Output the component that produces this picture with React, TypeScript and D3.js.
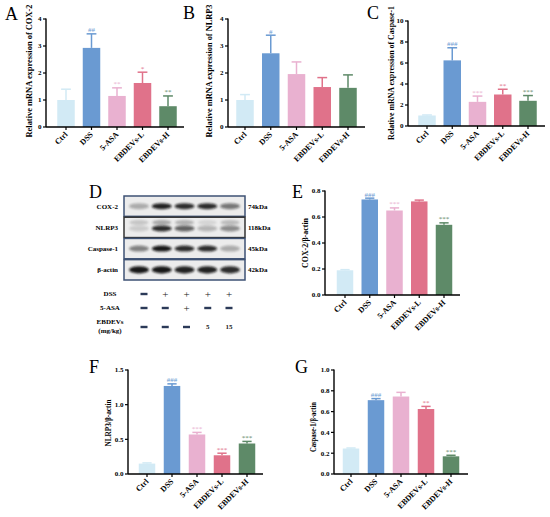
import React from "react"
import * as d3 from "d3"

const groups = ["Ctrl", "DSS", "5-ASA", "EBDEVs-L", "EBDEVs-H"]
const colors = ["#d2eaf5", "#6a9ad2", "#e9b1d0", "#e0728a", "#5e8a68"]

// A: relative mRNA of COX-2
const coxMrna = [1.0, 2.93, 1.15, 1.63, 0.77]
const coxMrnaErr = [0.4, 0.52, 0.3, 0.4, 0.38]
const coxMrnaMarks = ["", "##", "**", "*", "**"]

// B: relative mRNA of NLRP3
const nlrpMrna = [1.0, 2.73, 1.96, 1.48, 1.45]
const nlrpMrnaErr = [0.2, 0.67, 0.45, 0.35, 0.48]
const nlrpMrnaMarks = ["", "#", "", "", ""]

// C: relative mRNA of Caspase-1
const caspMrna = [1.0, 6.25, 2.3, 3.0, 2.4]
const caspMrnaErr = [0.05, 1.2, 0.55, 0.5, 0.5]
const caspMrnaMarks = ["", "###", "***", "**", "***"]

// E: COX-2 / beta-actin
const coxProt = [0.19, 0.735, 0.65, 0.72, 0.54]
const coxProtErr = [0.005, 0.01, 0.02, 0.01, 0.015]
const coxProtMarks = ["", "###", "***", "", "***"]

// F: NLRP3 / beta-actin
const nlrpProt = [0.15, 1.27, 0.57, 0.27, 0.44]
const nlrpProtErr = [0.01, 0.03, 0.03, 0.03, 0.03]
const nlrpProtMarks = ["", "###", "***", "***", "***"]

// G: Caspase-1 / beta-actin
const caspProt = [0.245, 0.71, 0.745, 0.625, 0.17]
const caspProtErr = [0.005, 0.015, 0.04, 0.025, 0.01]
const caspProtMarks = ["", "###", "", "**", "***"]

// D: western blot
const blotRows = ["COX-2", "NLRP3", "Caspase-1", "β-actin"]
const blotSizes = ["74kDa", "118kDa", "45kDa", "42kDa"]
const blotIntensity = [
  [0.3, 0.95, 0.9, 0.9, 0.55],
  [0.15, 0.9, 0.65, 0.25, 0.45],
  [0.5, 1.0, 0.9, 0.9, 0.3],
  [1.0, 1.0, 0.95, 0.95, 0.9],
]
const nlrpUpperBand = [0.2, 0.35, 0.3, 0.12, 0.25]
const treatRows = ["DSS", "5-ASA", "EBDEVs"]
const treatMarks = [
  ["-", "+", "+", "+", "+"],
  ["-", "-", "+", "-", "-"],
  ["-", "-", "-", "5", "15"],
]

const FONT = "'Liberation Serif', 'Times New Roman', serif"

const panels = [
  { letter: "A", lx: 5, ly: 20, values: coxMrna, errs: coxMrnaErr, marks: coxMrnaMarks, max: 4, ticks: [0, 1, 2, 3, 4], fmt: "d",
    ax: 46, axEnd: 184, yTop: 19, y0: 127, c0: 66, c4: 168, bw: 17.5, label: "Relative mRNA expression of COX-2", labX: 32, labY: 71, labLen: 133, labSize: 8.5 },
  { letter: "B", lx: 183, ly: 19, values: nlrpMrna, errs: nlrpMrnaErr, marks: nlrpMrnaMarks, max: 4, ticks: [0, 1, 2, 3, 4], fmt: "d",
    ax: 228, axEnd: 365, yTop: 19, y0: 127, c0: 245, c4: 348, bw: 17.5, label: "Relative mRNA expression of NLRP3", labX: 212, labY: 71, labLen: 133, labSize: 8.5 },
  { letter: "C", lx: 367, ly: 19, values: caspMrna, errs: caspMrnaErr, marks: caspMrnaMarks, max: 10, ticks: [0, 2, 4, 6, 8, 10], fmt: "d",
    ax: 408, axEnd: 545, yTop: 21, y0: 126, c0: 427, c4: 528, bw: 17.5, label: "Relative mRNA expression of Caspase-1", labX: 394, labY: 73, labLen: 134, labSize: 7.8 },
  { letter: "E", lx: 292, ly: 198, values: coxProt, errs: coxProtErr, marks: coxProtMarks, max: 0.8, ticks: [0, 0.2, 0.4, 0.6, 0.8], fmt: ".1f",
    ax: 325, axEnd: 460, yTop: 191, y0: 295, c0: 345, c4: 444, bw: 16.5, label: "COX-2/β-actin", labX: 308, labY: 243, labLen: 50, labSize: 8.5 },
  { letter: "F", lx: 89, ly: 373, values: nlrpProt, errs: nlrpProtErr, marks: nlrpProtMarks, max: 1.5, ticks: [0, 0.5, 1, 1.5], fmt: ".1f",
    ax: 128, axEnd: 263, yTop: 370, y0: 474, c0: 147, c4: 247, bw: 16.5, label: "NLRP3/β-actin", labX: 111, labY: 423, labLen: 47, labSize: 8.5 },
  { letter: "G", lx: 295, ly: 373, values: caspProt, errs: caspProtErr, marks: caspProtMarks, max: 1.0, ticks: [0, 0.2, 0.4, 0.6, 0.8, 1.0], fmt: ".1f",
    ax: 334, axEnd: 468, yTop: 370, y0: 474, c0: 351, c4: 451, bw: 16.5, label: "Caspase-1/β-actin", labX: 316, labY: 427, labLen: 50, labSize: 8.5 },
]

function BarPanel({ p }) {
  const y = d3.scaleLinear().domain([0, p.max]).range([p.y0, p.yTop])
  const x = d3.scalePoint().domain(groups).range([p.c0, p.c4])
  const fmt = d3.format(p.fmt)
  const cap = p.bw * 0.28

  return (
    <g fontFamily={FONT}>
      <text x={p.lx} y={p.ly} fontSize={18}>{p.letter}</text>
      <text transform={`translate(${p.labX},${p.labY}) rotate(-90)`} textAnchor="middle" fontSize={p.labSize} fontWeight="bold"
        textLength={p.labLen} lengthAdjust="spacingAndGlyphs">
        {p.label}
      </text>

      {p.values.map((v, i) => {
        const cx = x(groups[i])
        const top = y(v)
        const errTop = y(v + p.errs[i])
        return (
          <g key={i}>
            <line x1={cx} x2={cx} y1={top} y2={errTop} stroke={colors[i]} strokeWidth={1.5} />
            <line x1={cx - cap} x2={cx + cap} y1={errTop} y2={errTop} stroke={colors[i]} strokeWidth={1.5} />
            <rect x={cx - p.bw / 2} y={top} width={p.bw} height={p.y0 - top} fill={colors[i]} />
            {p.marks[i] && (
              <text x={cx} y={errTop - 1.5} textAnchor="middle" fontSize={7} fill={colors[i]}>
                {p.marks[i]}
              </text>
            )}
          </g>
        )
      })}

      {/* y axis */}
      <line x1={p.ax} x2={p.ax} y1={p.yTop - 0.5} y2={p.y0} stroke="#000" strokeWidth={1.4} />
      {p.ticks.map(t => (
        <g key={t}>
          <line x1={p.ax - 3} x2={p.ax} y1={y(t)} y2={y(t)} stroke="#000" strokeWidth={1.2} />
          <text x={p.ax - 4.5} y={y(t)} dy="0.35em" textAnchor="end" fontSize={7} fontWeight="bold">
            {fmt(t)}
          </text>
        </g>
      ))}

      {/* x axis */}
      <line x1={p.ax} x2={p.axEnd} y1={p.y0} y2={p.y0} stroke="#000" strokeWidth={1.4} />
      {groups.map(g => (
        <g key={g}>
          <line x1={x(g)} x2={x(g)} y1={p.y0} y2={p.y0 + 3} stroke="#000" strokeWidth={1.2} />
          <text transform={`translate(${x(g) + 2},${p.y0 + 8}) rotate(-45)`} textAnchor="end" fontSize={8} fontWeight="bold">
            {g}
          </text>
        </g>
      ))}
    </g>
  )
}

function BlotPanel() {
  const rowY = d3.scaleBand().domain(blotRows).range([196, 280]).paddingInner(0.04)
  const lane = d3.scalePoint().domain(d3.range(5).map(String)).range([139, 230])
  const signX = d3.scalePoint().domain(d3.range(5).map(String)).range([144, 229])
  const treatY = d3.scalePoint().domain(treatRows).range([294, 322])
  const shade = d3.scaleLinear().domain([0, 1]).range([0, 0.95])

  return (
    <g fontFamily={FONT}>
      <defs>
        <filter id="blur" x="-50%" y="-100%" width="200%" height="300%">
          <feGaussianBlur stdDeviation="1.3" />
        </filter>
      </defs>
      <text x={89} y={198} fontSize={18}>D</text>

      {blotRows.map((r, ri) => {
        const y0 = rowY(r)
        const h = rowY.bandwidth()
        const mid = y0 + h / 2
        return (
          <g key={r}>
            <rect x={124} y={y0} width={121} height={h} fill="#ececec" stroke={ri === 1 ? "#333" : "#3e5274"} strokeWidth={1.5} />
            {ri === 1 &&
              nlrpUpperBand.map((v, i) => (
                <ellipse key={"u" + i} cx={lane(String(i))} cy={mid - 5} rx={9.5} ry={2.5} fill="#222" opacity={shade(v)} filter="url(#blur)" />
              ))}
            {blotIntensity[ri].map((v, i) => (
              <ellipse key={i} cx={lane(String(i))} cy={mid + (ri === 1 ? 1 : 0)} rx={10} ry={ri === 3 ? 3.6 : 3} fill="#111" opacity={shade(v)} filter="url(#blur)" />
            ))}
            <text x={118} y={mid} dy="0.35em" textAnchor="end" fontSize={7} fontWeight="bold">{r}</text>
            <text x={248} y={mid} dy="0.35em" fontSize={7} fontWeight="bold">{blotSizes[ri]}</text>
          </g>
        )
      })}

      {treatRows.map((r, ri) => {
        const ty = treatY(r)
        const markY = ri === 2 ? ty + 5 : ty
        return (
          <g key={r}>
            <text x={110} y={ty} dy="0.35em" textAnchor="middle" fontSize={7} fontWeight="bold">{r}</text>
            {ri === 2 && (
              <text x={110} y={ty + 9} dy="0.35em" textAnchor="middle" fontSize={7} fontWeight="bold">(mg/kg)</text>
            )}
            {treatMarks[ri].map((m, i) => {
              const cx = signX(String(i))
              if (m === "-") return <rect key={i} x={cx - 3.5} y={markY - 1.2} width={7} height={2.4} fill="#2b3a58" />
              return (
                <text key={i} x={cx} y={markY} dy="0.35em" textAnchor="middle" fontSize={m === "+" ? 11 : 7} fontWeight={m === "+" ? "normal" : "bold"} fill="#222">
                  {m}
                </text>
              )
            })}
          </g>
        )
      })}
    </g>
  )
}

export default function App() {
  return (
    <div style={{ position: "absolute", left: 0, top: 0 }}>
      <svg width={550} height={517} style={{ display: "block", background: "#fff" }}>
        {panels.map(p => (
          <BarPanel key={p.letter} p={p} />
        ))}
        <BlotPanel />
      </svg>
    </div>
  )
}
